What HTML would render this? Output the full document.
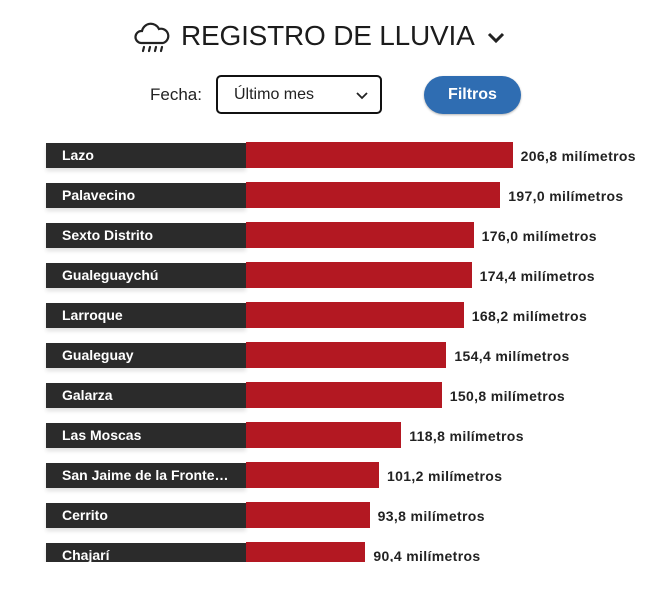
<!DOCTYPE html>
<html><head><meta charset="utf-8"><style>
body{margin:0;width:665px;height:603px;background:#fff;font-family:"Liberation Sans","DejaVu Sans",sans-serif;position:relative;overflow:hidden}
.title{position:absolute;left:181px;top:20px;font-size:28px;color:#1c1c1c;letter-spacing:-0.2px}
.fecha{position:absolute;left:150px;top:85px;font-size:17px;color:#222}
.sel{position:absolute;left:216px;top:75px;width:166px;height:39px;border:2px solid #111;border-radius:5px;box-sizing:border-box;font-size:16px;color:#222}
.btn{position:absolute;left:424px;top:76px;width:97px;height:38px;border-radius:19px;background:#2f6db2;color:#fff;font-weight:bold;font-size:16px;text-align:center;line-height:38px;box-shadow:0 1px 2px rgba(0,0,0,.3)}
#chart{position:absolute;left:0;top:130px;width:665px;height:432px;overflow:hidden}
.lab{position:absolute;left:46px;width:200px;height:25px;background:#2b2b2b;color:#fff;font-weight:bold;font-size:14px;line-height:25px;box-sizing:border-box;padding-left:16px;box-shadow:0 3px 4px rgba(0,0,0,.12);white-space:nowrap}
.bar{position:absolute;left:246px;height:26px;background:#b31822}
.val{position:absolute;font-weight:bold;font-size:14px;color:#222;line-height:26px;white-space:nowrap;letter-spacing:0.35px}
</style></head><body>
<svg style="position:absolute;left:133px;top:22px" width="38" height="34" viewBox="0 0 38 34"><path d="M8 21 A6 6 0 0 1 9 9 A9 9 0 0 1 26 7 A7 7 0 0 1 30 21 Z" fill="none" stroke="#222" stroke-width="2.2"/><path d="M11 25 l-1 4 M17 25 l-1 4 M23 25 l-1 4 M29 25 l-1 4" stroke="#222" stroke-width="2.2" stroke-linecap="round"/></svg>
<div class="title">REGISTRO DE LLUVIA</div>
<svg style="position:absolute;left:487px;top:32px" width="18" height="12"><path d="M2 2 L9 9 L16 2" fill="none" stroke="#222" stroke-width="3"/></svg>
<div class="fecha">Fecha:</div>
<div class="sel"><span style="position:absolute;left:16px;top:9px">Último mes</span><svg style="position:absolute;left:138px;top:15px" width="12" height="8"><path d="M1 1 L6 6 L11 1" fill="none" stroke="#222" stroke-width="1.8"/></svg></div>
<div class="btn">Filtros</div>
<div id="chart"></div>
<script>
const categories=["Lazo","Palavecino","Sexto Distrito","Gualeguaychú","Larroque","Gualeguay","Galarza","Las Moscas","San Jaime de la Fronte…","Cerrito","Chajarí"];
const values=[206.8,197.0,176.0,174.4,168.2,154.4,150.8,118.8,101.2,93.8,90.4];
const valueLabels=["206,8","197,0","176,0","174,4","168,2","154,4","150,8","118,8","101,2","93,8","90,4"];
function xw(v){return 5+v*1.265;}
function ry(i){return 12+i*40;}
const c=document.getElementById('chart');
categories.forEach((cat,i)=>{
 const y=ry(i);
 const l=document.createElement('div');l.className='lab';l.style.top=(y+1)+'px';l.textContent=cat;
 
 
 c.appendChild(l);
 const b=document.createElement('div');b.className='bar';b.style.top=y+'px';b.style.width=xw(values[i])+'px';
 
 
 c.appendChild(b);
 const t=document.createElement('div');t.className='val';t.style.top=(y+1)+'px';t.style.left=(246+xw(values[i])+8)+'px';t.textContent=valueLabels[i]+' milímetros';
 
 
 c.appendChild(t);
});
</script>
</body></html>
